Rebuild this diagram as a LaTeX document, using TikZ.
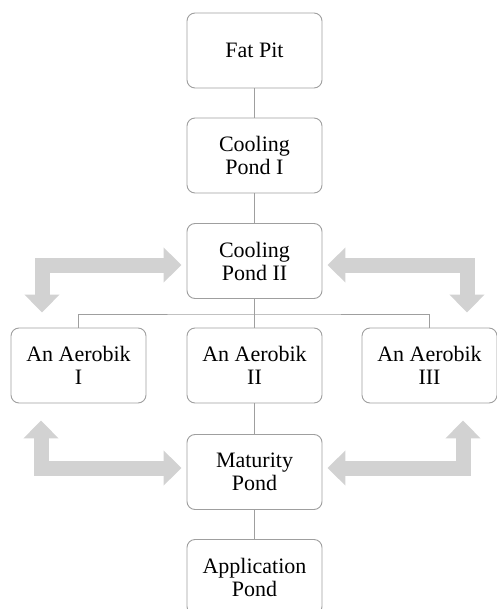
\documentclass[tikz,border=0pt]{standalone}
\usepackage{fontspec}
\setmainfont{Liberation Serif}
\usetikzlibrary{arrows.meta}
\tikzset{
	pond/.style={draw=gray!75, line width=0.9pt, rounded corners=8pt, fill=white,
		minimum width=135pt, minimum height=75pt, align=center,
		font=\fontsize{22}{23}\selectfont, inner sep=2pt},
	link/.style={draw=gray!75, line width=0.9pt},
	flow/.style={draw=gray!35, line width=15pt,
		arrows={Triangle[length=18pt,width=34pt]-Triangle[length=18pt,width=34pt]}}
}
\begin{document}
\begin{tikzpicture}[x=1pt, y=-1pt]
	\useasboundingbox (0, 0) rectangle (496, 609);
	% ponds
	\node[pond] (fp) at (254.5, 50.5) {Fat Pit};
	\node[pond] (cp1) at (254.5, 155.5) {Cooling\\Pond I};
	\node[pond] (cp2) at (254.5, 261) {Cooling\\Pond II};
	\node[pond] (a1) at (78.5, 365.5) {An Aerobik\\I};
	\node[pond] (a2) at (254.5, 365.5) {An Aerobik\\II};
	\node[pond] (a3) at (429.5, 365.5) {An Aerobik\\III};
	\node[pond] (mp) at (254.5, 472) {Maturity\\Pond};
	\node[pond] (ap) at (254.5, 577) {Application\\Pond};
	% thin links
	\coordinate (bus) at (254.5, 314);
	\draw[link] (fp) -- (cp1);
	\draw[link] (cp1) -- (cp2);
	\draw[link] (cp2) -- (a2);
	\draw[link] (a1.north) |- (bus) -| (a3.north);
	\draw[link] (a2) -- (mp);
	\draw[link] (mp) -- (ap);
	% grey arrows
	\coordinate (ul) at ([xshift=-36.5pt, yshift=15pt]a1.north);
	\coordinate (ur) at ([xshift=37.5pt, yshift=15pt]a3.north);
	\coordinate (ll) at ([xshift=-37.5pt, yshift=-17pt]a1.south);
	\coordinate (lr) at ([xshift=33.5pt, yshift=-17pt]a3.south);
	\draw[flow] (ul) |- ([xshift=-5pt, yshift=-4pt]cp2.west);
	\draw[flow] (ur) |- ([xshift=5pt, yshift=-4pt]cp2.east);
	\draw[flow] (ll) |- ([xshift=-5pt, yshift=4pt]mp.west);
	\draw[flow] (lr) |- ([xshift=5pt, yshift=4pt]mp.east);
\end{tikzpicture}
\end{document}
